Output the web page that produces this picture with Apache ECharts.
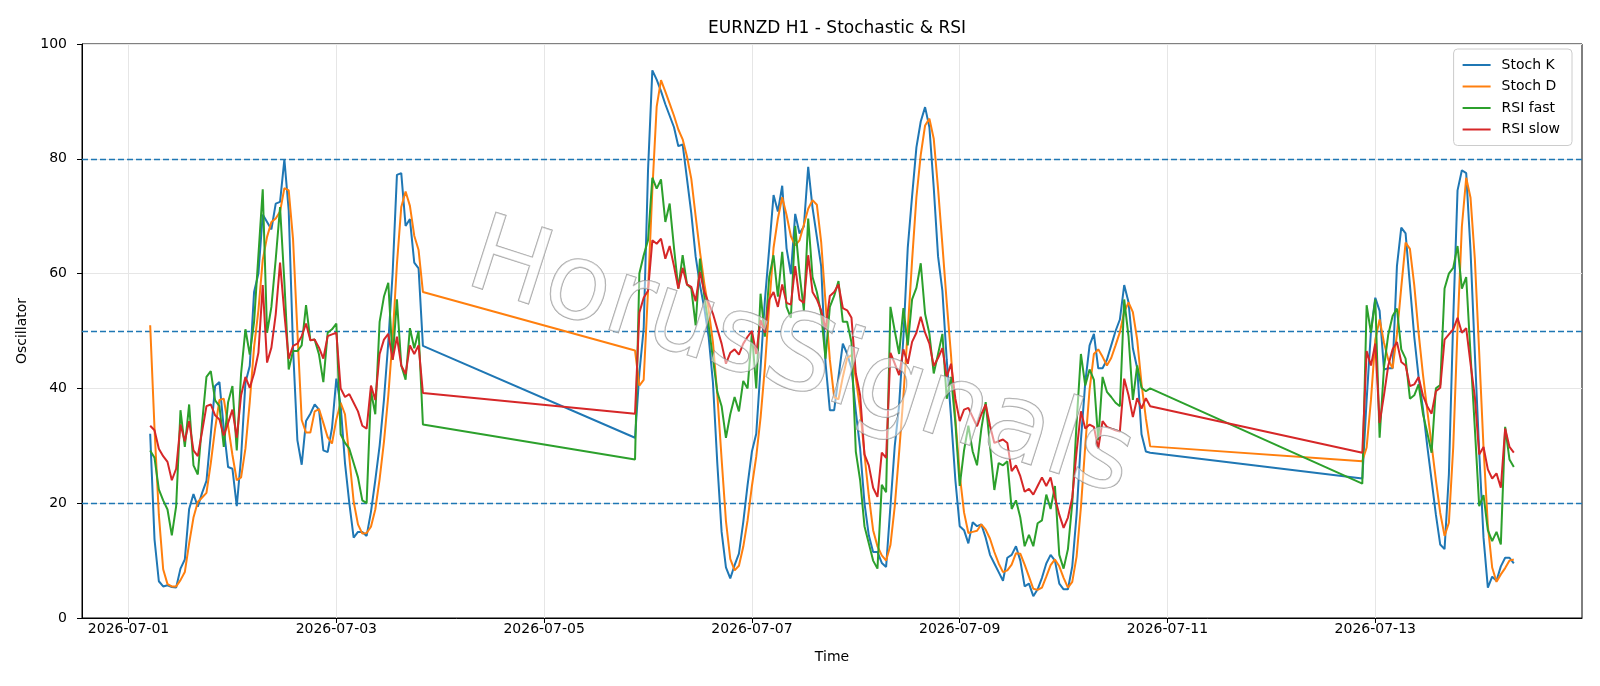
<!DOCTYPE html>
<html><head><meta charset="utf-8">
<script src="https://cdn.jsdelivr.net/npm/echarts@6/dist/echarts.min.js"></script>
<style>html,body{margin:0;padding:0;background:#fff}#c{width:1600px;height:686px}</style>
</head><body><div id="c"></div>
<script>
// hourly bars, three trading stretches (weekend gaps in between)
const segmentStarts = ['2026-07-01T05:00:00Z', '2026-07-05T21:00:00Z', '2026-07-12T21:00:00Z'];
const segmentLengths = [64, 120, 36];
const tickLabels = ['2026-07-01', '2026-07-03', '2026-07-05', '2026-07-07', '2026-07-09', '2026-07-11', '2026-07-13'];
const levelLines = [20, 50, 80];

const stochK = [
  32.1, 13.7, 6.4, 5.5, 5.7, 5.4, 5.3, 8.6, 10.2, 19.0, 21.6, 19.4, 21.8, 23.9, 32, 40.4, 41.1, 33, 26.3, 26, 19.5, 28, 41, 43.9, 56.8, 60, 70.3, 69, 67.7, 72.2, 72.5, 79.9, 71, 47, 31, 26.7, 34.3, 35.6, 37.2, 36.3, 29.2, 28.9, 33.1, 41.7, 37, 27, 20, 14, 15, 15, 14.3, 18.5, 24, 30, 38, 48, 60, 77.2, 77.5, 68.3, 69.5, 61.9, 60.9, 47.4,
  31.4, 42.7, 50.4, 78, 95.4, 93.8, 91.8, 89.5, 87.5, 85.5, 82.2, 82.5, 76.5, 70.5, 63, 58, 54, 49, 41, 27, 15, 8.8, 6.9, 9.2, 11.2, 16.7, 23.2, 29, 32.1, 43.6, 55.4, 64.4, 73.7, 70.8, 75.3, 64.4, 59.9, 70.4, 67, 68.2, 78.6, 71.5, 66.4, 61.3, 44.5, 36.2, 36.2, 42, 47.8, 46, 43.5, 36, 29.5, 20, 14.4, 11.5, 11.5, 9.6, 8.9, 19.5, 30, 37, 49, 64.5, 73.5, 82, 86.5, 89, 85.5, 75, 63, 57, 45, 35, 24, 16, 15.3, 13, 16.7, 16, 16.3, 14, 11, 9.5, 8, 6.5, 10.5, 11, 12.5, 10, 5.5, 6, 3.8, 5, 7, 9.5, 11, 10, 6, 5, 5, 9, 18, 31, 41, 47.5, 49.5, 43.5, 43.5, 45, 47.5, 50, 52, 58, 55, 47, 43.5, 32, 29, 28.8,
  24.3, 38, 50, 55.8, 53.5, 43.3, 43.5, 43.5, 61.3, 68, 67, 58, 49, 42, 36.5, 30, 24, 18, 12.8, 12, 25, 52, 74.5, 78, 77.5, 64, 46, 29, 14, 5.3, 7.2, 6.5, 9, 10.5, 10.5, 9.5
];
const stochD = [
  51, 33, 18, 8.5, 5.9, 5.5, 5.5, 6.6, 8, 13, 17.5, 20.2, 21, 21.8, 27, 33, 38, 38.2, 33.5, 28.4, 24, 24.5, 29.5, 37.6, 47.2, 53.6, 62.4, 66.4, 69, 69.6, 70.8, 74.9, 74.5, 66, 50, 34.5, 32.3, 32.3, 36, 36.4, 34, 31.5, 30.4, 34.6, 37.5, 35.5, 28, 20.3, 16.3, 14.7, 14.8, 15.9, 18.9, 24.2, 30.7, 38.7, 48.7, 61.7, 71.6, 74.3, 71.8, 66.6, 64.1, 56.8,
  46.6, 40.5, 41.5, 57, 74.6, 89.1, 93.7, 91.7, 89.6, 87.5, 85.1, 83.4, 80.4, 76.5, 70, 63.8, 58.3, 53.7, 48, 39, 27.7, 16.9, 10.3, 8.3, 9.1, 12.4, 17, 23, 28.1, 34.9, 43.7, 54.5, 64.5, 69.6, 73.3, 70.2, 66.5, 64.9, 65.8, 68.5, 71.3, 72.8, 72, 65.5, 55, 45, 38.5, 38.1, 42, 45.3, 45.8, 41.8, 36.3, 28.5, 21.3, 15.3, 12.5, 10.9, 10, 12.7, 19.5, 28.8, 38.7, 50.2, 62.3, 73.3, 80.7, 85.8, 87, 83.5, 74.8, 65, 55, 45.7, 34.7, 25, 18.4, 14.8, 15, 15.2, 16.3, 15.4, 13.8, 11.5, 9.5, 8, 8.3, 9.3, 11.3, 11.2, 9.3, 7.2, 5.1, 4.9, 5.3, 7.2, 9.2, 10.2, 9, 7, 5.3, 6.3, 10.7, 19.3, 30, 39.8, 46, 46.8, 45.5, 44, 45.3, 47.5, 49.8, 53.3, 55, 53.3, 48.5, 40.8, 34.8, 29.9,
  27.3, 29.7, 38, 48.5, 52, 48, 45, 43.5, 49.4, 57.6, 65.4, 64.3, 58, 49.7, 42.5, 36.2, 30.2, 24, 18.3, 14.3, 16.6, 29.7, 50.5, 68.2, 76.7, 73.2, 62.5, 46.3, 29.7, 16.1, 8.8, 6.3, 7.6, 8.7, 10, 10.2
];
const rsiFast = [
  29.2, 27.9, 22.4, 20.5, 18.9, 14.4, 19.5, 36.2, 29.8, 37.2, 26.6, 25, 34, 42, 43, 37.9, 36.9, 29.8, 37.6, 40.4, 29.2, 42.6, 50.3, 45.9, 51.6, 63.2, 74.7, 49.7, 54.2, 62.5, 71.6, 58.5, 43.3, 46.5, 46.5, 47.5, 54.5, 48.4, 48.5, 45.9, 41.1, 49.7, 50.3, 51.3, 32, 30.5, 29.5, 27, 24.5, 20.5, 20, 39.5, 35.5, 51.6, 56, 58.4, 45, 55.5, 44, 41.5, 50.5, 47, 50, 33.7,
  27.6, 60, 63.2, 65.8, 76.7, 74.8, 76.4, 69, 72.2, 64.5, 57.4, 63.2, 58.1, 57.4, 51, 62.6, 56.1, 51, 45.2, 39.4, 36.9, 31.4, 35.5, 38.5, 36, 41.3, 40, 49.7, 40, 56.5, 49, 59.4, 63.2, 56, 63.8, 54.2, 52.3, 68.3, 60, 53.6, 69.6, 59.4, 56.8, 53, 45.2, 54.2, 56.1, 58.7, 51.6, 51.6, 48, 29, 24, 16, 13, 10, 8.6, 23.2, 21.9, 54.2, 50, 46, 54, 47.5, 55.5, 57.5, 61.8, 53, 49.5, 42.6, 46, 49.5, 38.2, 42, 34, 23, 29.2, 33.5, 29, 26.6, 33, 37.6, 30, 22.3, 27, 26.6, 27.3, 19, 20.5, 17.5, 12.5, 14.5, 12.5, 16.5, 17, 21.5, 19, 23, 11, 8.6, 12, 20, 34, 46, 40.5, 43.3, 41.5, 31, 42, 39.4, 38.5, 37.5, 36.9, 55.5, 49, 38, 44, 40.1, 39.5, 40,
  23.4, 54.5, 49.7, 55.5, 31.4, 43.6, 49.4, 52.6, 53.9, 46.8, 45.2, 38.2, 38.8, 40.7, 35.6, 32.3, 28.8, 40, 40.6, 57.4, 60, 61, 64.8, 57.4, 59.4, 45.9, 33, 19.5, 21.4, 15.3, 13.4, 15, 12.8, 33.3, 27.6, 26.3
];
const rsiSlow = [
  33.5, 32.7, 29.5, 28.2, 27.2, 24, 26, 33.7, 30.8, 34.3, 29.2, 28.2, 32.5, 36.9, 37.2, 35.3, 34.6, 31.8, 34, 36.3, 31.4, 38.8, 42, 40.1, 42.6, 46.2, 58, 44.5, 47.1, 52.9, 61.9, 53, 45.2, 47.4, 47.8, 49.1, 51.3, 48.4, 48.5, 47.1, 45.2, 49.1, 49.4, 49.7, 40, 38.5, 39, 37.5, 36, 33.5, 33, 40.5, 38, 46, 48.5, 49.5, 45, 49, 44, 42.5, 47.5, 46, 47.5, 39.2,
  35.6, 53.2, 55.8, 57, 65.8, 65.2, 66.1, 62.6, 64.8, 61.3, 57.4, 61, 58.1, 57.7, 55.2, 60.3, 56.8, 54.9, 53, 50.4, 47.8, 44.3, 46.2, 46.8, 45.9, 47.8, 49, 50, 46, 51.9, 49.7, 55.5, 56.8, 54.2, 58.1, 54.9, 54.6, 61.3, 55.5, 54.9, 63.2, 56.8, 55.5, 53.6, 50.3, 56.1, 56.8, 58.1, 54, 53.6, 52.3, 42.6, 38.8, 28.5, 26.6, 22.7, 21.1, 28.8, 27.9, 46.2, 44.3, 42.3, 46.8, 44.3, 48.1, 49.7, 52.5, 49.7, 47.8, 43.9, 45.3, 47, 42, 44.3, 38.2, 34.3, 36.3, 36.6, 35, 33.4, 35.5, 37.2, 33.5, 30.5, 30.8, 31.1, 30.5, 25.6, 26.6, 24.7, 22, 22.5, 21.5, 23, 24.5, 23, 24.5, 21, 18, 15.7, 17.5, 21, 29, 36, 33, 33.7, 33.3, 29.5, 34.3, 33.3, 33, 32.7, 32.5, 41.7, 38.8, 35, 38.3, 36.5, 38.3, 36.9,
  28.8, 46.5, 44, 47.8, 34, 38.8, 44, 46.8, 48.1, 44.6, 44, 40.4, 40.7, 42, 38.8, 36.9, 35.6, 39.5, 40.1, 48.5, 49.4, 50.3, 52.3, 49.7, 50.5, 44.3, 38.5, 28.5, 29.8, 25.9, 24.3, 25.2, 22.7, 33, 29.8, 28.8
];

// ---- build x positions (hours since 2026-07-01 00:00 UTC)
const origin = Date.UTC(2026, 6, 1);
const hours = [];
segmentStarts.forEach((s, i) => {
  const h0 = (Date.parse(s) - origin) / 3600000;
  for (let j = 0; j < segmentLengths[i]; j++) hours.push(h0 + j);
});
const tickHours = tickLabels.map(t => (Date.parse(t + 'T00:00:00Z') - origin) / 3600000);
const span = hours[hours.length - 1] - hours[0];
const xMin = hours[0] - 0.05 * span, xMax = hours[hours.length - 1] + 0.05 * span;
const pair = arr => arr.map((v, i) => [hours[i], v]);

const FONT = 'DejaVu Sans';
const chart = echarts.init(document.getElementById('c'), null, {renderer: 'canvas'});
const mk = (name, data, color) => ({
  name, type: 'line', data: pair(data), showSymbol: false, symbol: 'none',
  lineStyle: {width: 2, color}, itemStyle: {color}, z: 3, animation: false
});

chart.setOption({
  animation: false,
  title: {
    text: 'EURNZD H1 - Stochastic & RSI', left: 832, top: 15, textAlign: 'center',
    textStyle: {fontFamily: FONT, fontSize: 17, fontWeight: 'normal', color: '#000'}
  },
  grid: {left: 82, right: 18, top: 44, bottom: 68, show: true, borderColor: '#000', borderWidth: 1, backgroundColor: 'transparent'},
  legend: {
    orient: 'vertical', right: 28, top: 49, icon: 'rect', itemWidth: 28, itemHeight: 2,
    itemGap: 7.5, padding: [9, 12, 9, 9],
    backgroundColor: 'rgba(255,255,255,0.85)', borderColor: '#cccccc', borderWidth: 1, borderRadius: 4,
    textStyle: {fontFamily: FONT, fontSize: 14, color: '#000', padding: [0, 0, 0, 6]},
    data: ['Stoch K', 'Stoch D', 'RSI fast', 'RSI slow']
  },
  xAxis: {
    type: 'value', min: xMin, max: xMax,
    name: 'Time', nameLocation: 'middle', nameGap: 32,
    nameTextStyle: {fontFamily: FONT, fontSize: 14, color: '#000'},
    axisLine: {show: true, onZero: false, lineStyle: {color: '#000', width: 1}},
    axisTick: {show: true, inside: false, length: 5, customValues: tickHours, lineStyle: {color: '#000'}},
    axisLabel: {
      customValues: tickHours, margin: 4, fontFamily: FONT, fontSize: 14, color: '#000',
      formatter: v => { const i = tickHours.indexOf(v); return i >= 0 ? tickLabels[i] : ''; }
    },
    splitLine: {show: false}
  },
  yAxis: {
    type: 'value', min: 0, max: 100, interval: 20,
    name: 'Oscillator', nameLocation: 'middle', nameGap: 50, nameRotate: 90,
    nameTextStyle: {fontFamily: FONT, fontSize: 14, color: '#000'},
    axisLine: {show: true, onZero: false, lineStyle: {color: '#000', width: 1}},
    axisTick: {show: true, inside: false, length: 5, lineStyle: {color: '#000'}},
    axisLabel: {margin: 15, fontFamily: FONT, fontSize: 14, color: '#000'},
    splitLine: {show: true, lineStyle: {color: '#e6e6e6', width: 1}}
  },
  series: [
    {
      name: 'grid', type: 'line', data: [], silent: true, z: 1,
      markLine: {
        silent: true, symbol: 'none', z: 1, animation: false, label: {show: false},
        lineStyle: {color: '#e6e6e6', width: 1, type: 'solid'},
        data: tickHours.map(h => ({xAxis: h}))
      }
    },
    {
      name: 'levels', type: 'line', data: [], silent: true, z: 2,
      markLine: {
        silent: true, symbol: 'none', z: 2, animation: false, label: {show: false},
        lineStyle: {color: '#1f77b4', width: 1.3, type: [6, 3]},
        data: levelLines.map(v => ({yAxis: v}))
      }
    },
    mk('Stoch K', stochK, '#1f77b4'),
    mk('Stoch D', stochD, '#ff7f0e'),
    mk('RSI fast', rsiFast, '#2ca02c'),
    mk('RSI slow', rsiSlow, '#d62728')
  ],
  graphic: [
    {
      type: 'text', x: 800, y: 362, rotation: -0.31, z: 100, silent: true,
      style: {text: 'HorusSignals', fontFamily: FONT, fontSize: 106, align: 'center', verticalAlign: 'middle',
        fill: 'rgba(255,255,255,0.5)', stroke: 'rgba(135,135,135,0.8)', lineWidth: 1.3,
        shadowColor: 'rgba(0,0,0,0.32)', shadowBlur: 4, shadowOffsetX: 3, shadowOffsetY: 3}
    }
  ]
});
</script></body></html>
